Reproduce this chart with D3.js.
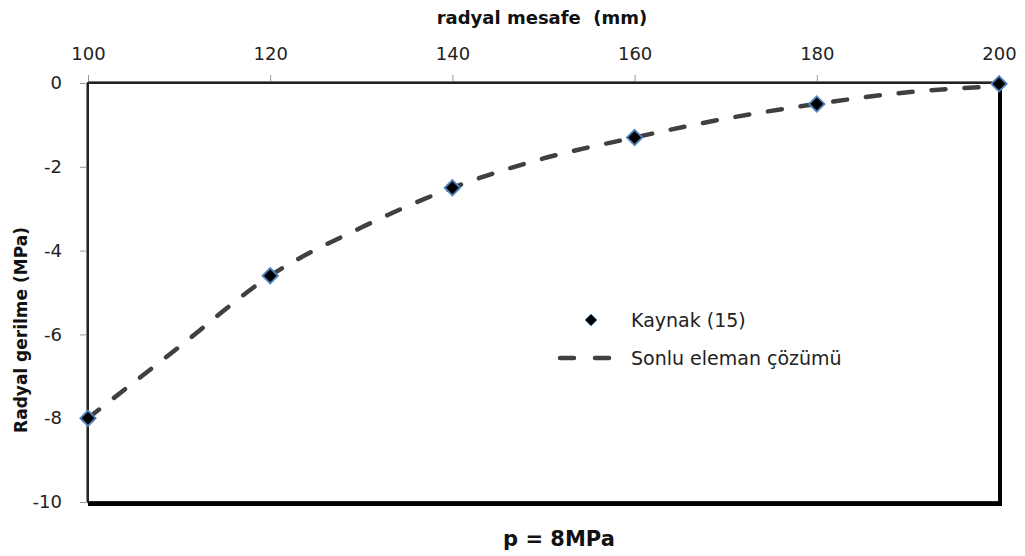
<!DOCTYPE html>
<html>
<head>
<meta charset="utf-8">
<script src="https://d3js.org/d3.v7.min.js"></script>
<style>
  body { margin: 0; background: #fff; }
  svg text { font-family: "DejaVu Sans", "Liberation Sans", sans-serif; }
</style>
</head>
<body>
<div id="chart"></div>
<script>
// radial distance (mm) and radial stress (MPa)
var kaynakX = [100, 120, 140, 160, 180, 200];
var kaynakY = [-8, -4.6, -2.5, -1.3, -0.5, -0.02];

var femX = [100, 110, 120, 130, 140, 150, 160, 170, 180, 190, 200];
var femY = [-8, -6.3, -4.6, -3.45, -2.5, -1.8, -1.3, -0.85, -0.5, -0.22, -0.08];

var xTicks = [100, 120, 140, 160, 180, 200];
var yTicks = [0, -2, -4, -6, -8, -10];

var W = 1025, H = 556;
// plot box edges (don't use "top", it's window.top)
var pLeft = 88, pRight = 999, pTop = 83, pBottom = 502;

var svg = d3.select("#chart").append("svg")
  .attr("width", W)
  .attr("height", H);

var x = d3.scaleLinear().domain([100, 200]).range([pLeft, pRight]);
var y = d3.scaleLinear().domain([-10, 0]).range([pBottom, pTop]);

// frame, thick right/bottom like a shadow
svg.append("rect")
  .attr("x", pLeft).attr("y", pTop)
  .attr("width", pRight - pLeft).attr("height", pBottom - pTop)
  .attr("fill", "none").attr("stroke", "#222").attr("stroke-width", 2);
svg.append("line").attr("x1", pLeft - 1.5).attr("x2", pLeft - 1.5)
  .attr("y1", pTop).attr("y2", pBottom).attr("stroke", "#888").attr("stroke-width", 1);
svg.append("line").attr("x1", pLeft).attr("x2", pRight)
  .attr("y1", pTop - 1.5).attr("y2", pTop - 1.5).attr("stroke", "#777").attr("stroke-width", 1);
svg.append("path")
  .attr("d", "M" + (pRight + 1) + "," + (pTop + 2) + "V" + (pBottom + 2) + "H" + pLeft)
  .attr("fill", "none").attr("stroke", "#000").attr("stroke-width", 4);

// axes
var xAxis = svg.append("g")
  .attr("transform", "translate(0," + (pTop - 2) + ")")
  .call(d3.axisTop(x).tickValues(xTicks).tickSize(6).tickPadding(15));
var yAxis = svg.append("g")
  .attr("transform", "translate(" + (pLeft - 2) + ",0)")
  .call(d3.axisLeft(y).tickValues(yTicks).tickSize(6).tickPadding(18).tickFormat(d3.format("d")));

[xAxis, yAxis].forEach(function(g) {
  g.select(".domain").remove();
  g.selectAll(".tick line").attr("stroke", "#999");
  g.selectAll(".tick text")
    .attr("font-size", 18)
    .attr("fill", "#222")
    .style("font-family", "'DejaVu Sans', sans-serif");
});
yAxis.selectAll(".tick text").text(function(d) { return d === 0 ? "0" : "-" + Math.abs(d); });

// FEM dashed curve
var line = d3.line()
  .x(function(d) { return x(d[0]); })
  .y(function(d) { return y(d[1]); })
  .curve(d3.curveMonotoneX);

svg.append("path")
  .datum(d3.zip(femX, femY))
  .attr("d", line)
  .attr("fill", "none")
  .attr("stroke", "#404040")
  .attr("stroke-width", 4.5)
  .attr("stroke-linecap", "round")
  .attr("stroke-dasharray", "14,19");

// markers
var diamond = d3.symbol().type(d3.symbolDiamond2).size(150);
svg.selectAll(".pt")
  .data(d3.zip(kaynakX, kaynakY))
  .enter().append("path")
  .attr("class", "pt")
  .attr("transform", function(d) { return "translate(" + x(d[0]) + "," + y(d[1]) + ")"; })
  .attr("d", diamond)
  .attr("fill", "#000")
  .attr("stroke", "#4f81bd")
  .attr("stroke-width", 1.8);

// legend
var lg = svg.append("g");
lg.append("path")
  .attr("transform", "translate(591,320)")
  .attr("d", d3.symbol().type(d3.symbolDiamond2).size(90))
  .attr("fill", "#000").attr("stroke", "#4f81bd").attr("stroke-width", 1);
lg.append("text").attr("x", 631).attr("y", 327)
  .attr("font-size", 19).attr("fill", "#222").text("Kaynak (15)");
lg.append("line")
  .attr("x1", 560).attr("x2", 610).attr("y1", 358).attr("y2", 358)
  .attr("stroke", "#404040").attr("stroke-width", 4.5)
  .attr("stroke-linecap", "round").attr("stroke-dasharray", "14,21");
lg.append("text").attr("x", 631).attr("y", 365)
  .attr("font-size", 19).attr("fill", "#222").text("Sonlu eleman çözümü");

// titles
svg.append("text")
  .attr("x", 542).attr("y", 24)
  .attr("text-anchor", "middle")
  .attr("font-size", 18).attr("font-weight", "bold").attr("fill", "#111")
  .attr("xml:space", "preserve")
  .text("radyal mesafe  (mm)");

svg.append("text")
  .attr("transform", "translate(27,330) rotate(-90)")
  .attr("text-anchor", "middle")
  .attr("font-size", 17).attr("font-weight", "bold").attr("fill", "#111")
  .text("Radyal gerilme (MPa)");

svg.append("text")
  .attr("x", 559).attr("y", 546)
  .attr("text-anchor", "middle")
  .attr("font-size", 21).attr("font-weight", "bold").attr("fill", "#111")
  .text("p = 8MPa");
</script>
</body>
</html>
